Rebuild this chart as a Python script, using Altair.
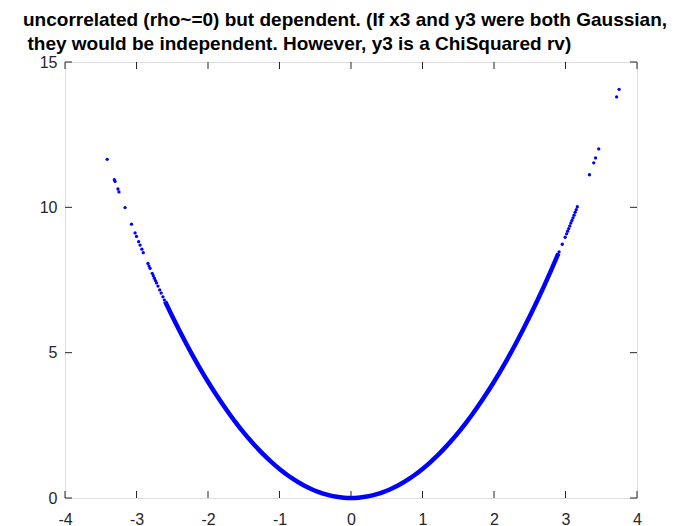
import altair as alt
import pandas as pd

# Dense band of the scatter
band_x = [-2.6, -2.5, -2.4, -2.3, -2.2, -2.1, -2.0, -1.9, -1.8, -1.7, -1.6, -1.5,
          -1.4, -1.3, -1.2, -1.1, -1.0, -0.9, -0.8, -0.7, -0.6, -0.5, -0.4, -0.3,
          -0.2, -0.1, 0.0, 0.1, 0.2, 0.3, 0.4, 0.5, 0.6, 0.7, 0.8, 0.9, 1.0, 1.1,
          1.2, 1.3, 1.4, 1.5, 1.6, 1.7, 1.8, 1.9, 2.0, 2.1, 2.2, 2.3, 2.4, 2.5,
          2.6, 2.7, 2.8, 2.9]
band_y = [6.76, 6.25, 5.76, 5.29, 4.84, 4.41, 4.00, 3.61, 3.24, 2.89, 2.56, 2.25,
          1.96, 1.69, 1.44, 1.21, 1.00, 0.81, 0.64, 0.49, 0.36, 0.25, 0.16, 0.09,
          0.04, 0.01, 0.00, 0.01, 0.04, 0.09, 0.16, 0.25, 0.36, 0.49, 0.64, 0.81,
          1.00, 1.21, 1.44, 1.69, 1.96, 2.25, 2.56, 2.89, 3.24, 3.61, 4.00, 4.41,
          4.84, 5.29, 5.76, 6.25, 6.76, 7.29, 7.84, 8.41]

# Sparse tail points
tail_x = [-3.41, -3.31, -3.30, -3.26, -3.245, -3.16, -3.07, -3.02, -3.00, -2.97,
          -2.95, -2.925, -2.905, -2.84, -2.825, -2.81, -2.78, -2.765, -2.75, -2.735,
          -2.72, -2.70, -2.675, -2.655, -2.63, -2.61,
          3.75, 3.715, 3.465, 3.42, 3.395, 3.335, 3.165, 3.15, 3.135, 3.12, 3.105,
          3.09, 3.075, 3.06, 3.045, 3.03, 3.015, 2.995, 2.955, 2.91, 2.895]
tail_y = [11.65, 10.95, 10.89, 10.63, 10.53, 9.99, 9.42, 9.12, 9.00, 8.82,
          8.70, 8.56, 8.44, 8.07, 7.98, 7.90, 7.73, 7.65, 7.56, 7.48,
          7.40, 7.29, 7.16, 7.05, 6.92, 6.81,
          14.06, 13.80, 12.01, 11.70, 11.53, 11.12, 10.02, 9.92, 9.83, 9.73, 9.64,
          9.55, 9.46, 9.36, 9.27, 9.18, 9.09, 8.97, 8.73, 8.47, 8.38]

x_ticks = [-4, -3, -2, -1, 0, 1, 2, 3, 4]
y_ticks = [0, 5, 10, 15]

title_lines = ["uncorrelated (rho~=0) but dependent. (If x3 and y3 were both Gaussian,",
               "they would be independent. However, y3 is a ChiSquared rv)"]

W, H = 572, 436
AX = "#262626"
BLUE = "#0000FF"
TL = 7

xs = alt.Scale(domain=[-4, 4], nice=False, zero=False)
ys = alt.Scale(domain=[0, 15], nice=False, zero=False)

band = pd.DataFrame({"x": band_x, "y": band_y})
tails = pd.DataFrame({"x": tail_x, "y": tail_y})
xt = pd.DataFrame({"t": x_ticks})
yt = pd.DataFrame({"t": y_ticks})

xaxis = alt.Axis(values=x_ticks, labelExpr="datum.value + ''", tickSize=0, domain=False,
                 grid=False, labelPadding=13, labelFontSize=16, labelColor=AX,
                 labelFont="Liberation Sans", title=None, labelFlush=False)
yaxis = alt.Axis(values=y_ticks, labelExpr="datum.value + ''", tickSize=0, domain=False,
                 grid=False, labelPadding=8, labelFontSize=16, labelColor=AX,
                 labelFont="Liberation Sans", title=None, labelFlush=False)

line = alt.Chart(band).mark_line(color=BLUE, strokeWidth=4.5, interpolate="monotone").encode(
    x=alt.X("x:Q", scale=xs, axis=xaxis),
    y=alt.Y("y:Q", scale=ys, axis=yaxis),
)
pts = alt.Chart(tails).mark_circle(color=BLUE, size=11, opacity=1).encode(
    x=alt.X("x:Q", scale=xs),
    y=alt.Y("y:Q", scale=ys),
)

tick_b = alt.Chart(xt).mark_rule(color=AX, strokeWidth=1).encode(
    x=alt.X("t:Q", scale=xs), y=alt.value(H), y2=alt.value(H - TL))
tick_t = alt.Chart(xt).mark_rule(color=AX, strokeWidth=1).encode(
    x=alt.X("t:Q", scale=xs), y=alt.value(0), y2=alt.value(TL))
tick_l = alt.Chart(yt).mark_rule(color=AX, strokeWidth=1).encode(
    y=alt.Y("t:Q", scale=ys), x=alt.value(0), x2=alt.value(TL))
tick_r = alt.Chart(yt).mark_rule(color=AX, strokeWidth=1).encode(
    y=alt.Y("t:Q", scale=ys), x=alt.value(W), x2=alt.value(W - TL))

t1 = alt.Chart(pd.DataFrame({"s": [title_lines[0]]})).mark_text(
    font="Liberation Sans", fontSize=19, fontWeight="bold", color="#000000",
    align="left", baseline="alphabetic").encode(
    text="s:N", x=alt.value(-42), y=alt.value(-36.5))
t2 = alt.Chart(pd.DataFrame({"s": [title_lines[1]]})).mark_text(
    font="Liberation Sans", fontSize=19, fontWeight="bold", color="#000000",
    align="left", baseline="alphabetic").encode(
    text="s:N", x=alt.value(-37.5), y=alt.value(-12))

chart = alt.layer(line, pts, tick_b, tick_t, tick_l, tick_r, t1, t2).properties(
    width=W, height=H,
    autosize="none",
    padding={"left": 65, "top": 62, "right": 45, "bottom": 28},
).configure_view(stroke=AX, strokeWidth=1).configure(background="white")

chart.save("out.html", embed_options={"renderer": "svg", "actions": False})
